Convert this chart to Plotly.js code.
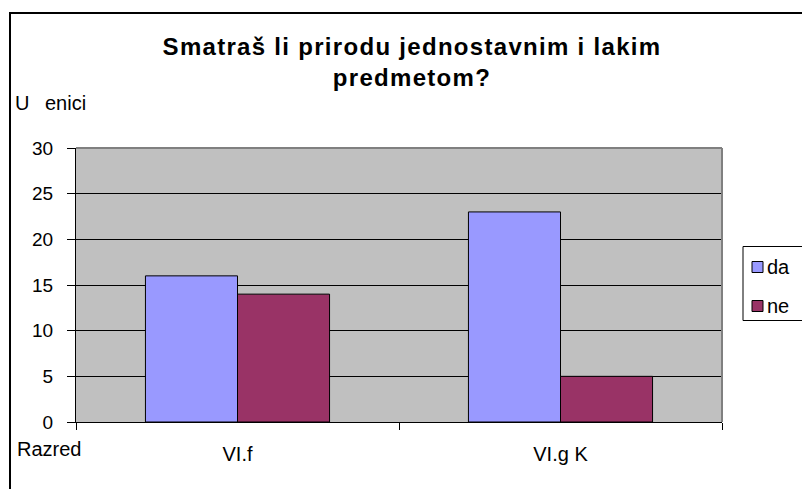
<!DOCTYPE html>
<html>
<head>
<meta charset="utf-8">
<script src="https://cdn.plot.ly/plotly-3.0.1.min.js"></script>
<style>
html,body{margin:0;padding:0;background:#fff;}
#wrap{position:relative;width:802px;height:489px;overflow:hidden;}
#chart{width:802px;height:489px;}
#frameTop{position:absolute;left:9px;top:12px;width:800px;height:2px;background:#000;z-index:10;pointer-events:none;}
#frameLeft{position:absolute;left:9px;top:12px;width:2px;height:480px;background:#000;z-index:10;pointer-events:none;}
.gtitle{letter-spacing:1.3px;}
</style>
</head>
<body>
<div id="wrap"><div id="chart"></div><div id="frameTop"></div><div id="frameLeft"></div></div>
<script>
const categories = ["VI.f", "VI.g K"];
const seriesNames = ["da", "ne"];
const daValues = [16, 23];
const neValues = [14, 5];
const seriesColors = ["#9999FF", "#993366"];
const yTickValues = [0, 5, 10, 15, 20, 25, 30];
const titleText = "Smatraš li prirodu jednostavnim i lakim<br>predmetom?";
const yTitleText = "U\u2002\u00a0enici";
const xTitleText = "Razred";

const FONT = "Liberation Sans, Arial, sans-serif";
const W = 802, H = 489;
const L = 76, R = 722, T = 148, B = 422;
const px = x => (x - L) / (R - L);
const py = y => (B - y) / (B - T);

const seriesValues = [daValues, neValues];
const traces = seriesNames.map((n, i) => ({
  type: "bar",
  name: n,
  x: categories,
  y: seriesValues[i],
  marker: {color: seriesColors[i], line: {color: "#000", width: 1}},
  hoverinfo: "none",
  showlegend: false
}));

const shapes = [
  {type: "line", xref: "paper", yref: "paper", x0: 0, x1: 1, y0: 1, y1: 1, line: {color: "#808080", width: 2}, layer: "above"},
  {type: "line", xref: "paper", yref: "paper", x0: 1, x1: 1, y0: 0, y1: 1, line: {color: "#808080", width: 2}, layer: "above"},
  {type: "rect", xref: "paper", yref: "paper", x0: px(743), x1: px(830), y0: py(246.5), y1: py(320.5),
   line: {color: "#000", width: 1}, fillcolor: "#fff", layer: "above"}
];
const annotations = [
  {text: yTitleText, xref: "paper", yref: "paper", x: px(13), y: py(103), xanchor: "left", yanchor: "middle",
   showarrow: false, font: {family: FONT, size: 20, color: "#000"}},
  {text: xTitleText, xref: "paper", yref: "paper", x: px(15), y: py(449), xanchor: "left", yanchor: "middle",
   showarrow: false, font: {family: FONT, size: 20, color: "#000"}}
];
const legendY = [267, 306];
seriesNames.forEach((n, i) => {
  shapes.push({type: "rect", xref: "paper", yref: "paper", x0: px(752), x1: px(763), y0: py(legendY[i] - 5.5), y1: py(legendY[i] + 5.5),
    line: {color: "#000", width: 1}, fillcolor: seriesColors[i], layer: "above"});
  annotations.push({text: n, xref: "paper", yref: "paper", x: px(765), y: py(legendY[i]), xanchor: "left", yanchor: "middle",
    showarrow: false, font: {family: FONT, size: 20, color: "#000"}});
});

const layout = {
  width: W, height: H,
  margin: {l: L, r: W - R, t: T, b: H - B, pad: 0},
  paper_bgcolor: "#fff",
  plot_bgcolor: "#C0C0C0",
  font: {family: FONT, size: 20, color: "#000"},
  title: {text: titleText, font: {family: FONT, size: 24, weight: "bold", color: "#000"},
    xref: "container", x: 412 / W, xanchor: "center", yref: "container", y: 1 - 55 / H, yanchor: "top"},
  showlegend: false,
  barmode: "group",
  bargap: 0.43,
  bargroupgap: 0,
  xaxis: {
    type: "category", range: [-0.5, 1.5], tickson: "boundaries",
    ticks: "outside", ticklen: 7, tickcolor: "#000", tickwidth: 1,
    showline: true, linecolor: "#000", linewidth: 1, showgrid: false, zeroline: false,
    ticklabelstandoff: 14, tickfont: {family: FONT, size: 20, color: "#000"}, fixedrange: true
  },
  yaxis: {
    range: [0, 30], tickvals: yTickValues, ticks: "outside", ticklen: 8, tickcolor: "#000", tickwidth: 1,
    showline: true, linecolor: "#000", linewidth: 1, showgrid: true, gridcolor: "#000", gridwidth: 1,
    zeroline: false, ticklabelstandoff: 10, tickfont: {family: FONT, size: 19, color: "#000"}, fixedrange: true
  },
  shapes: shapes,
  annotations: annotations
};

Plotly.newPlot("chart", traces, layout, {staticPlot: true, displayModeBar: false});
</script>
</body>
</html>
